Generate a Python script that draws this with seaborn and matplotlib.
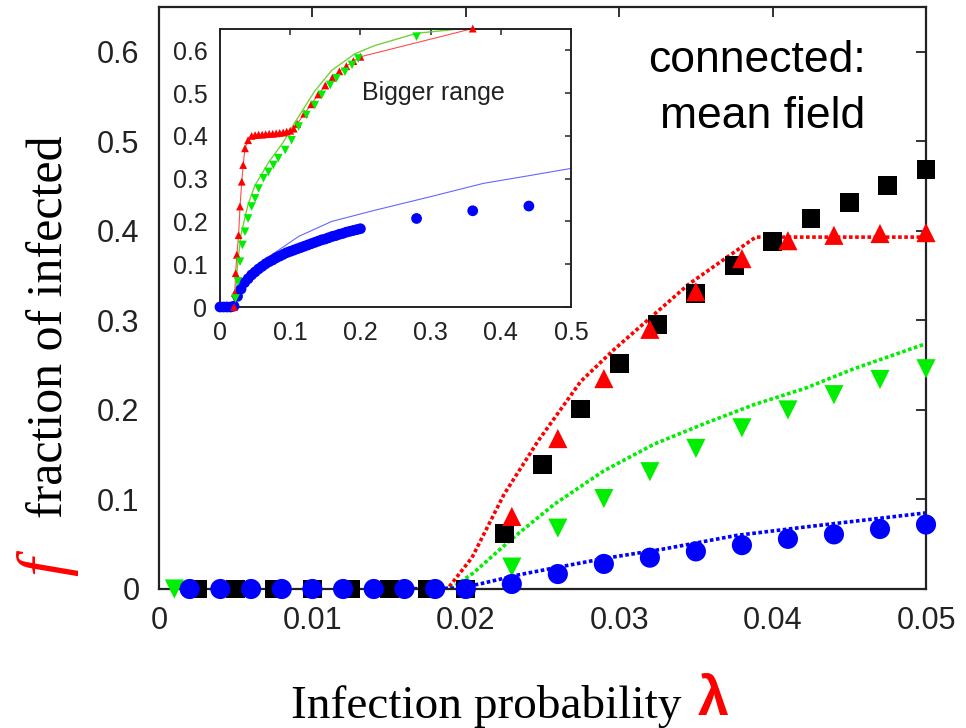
import numpy as np
import pandas as pd
import matplotlib
matplotlib.use("Agg")
import matplotlib.pyplot as plt
import seaborn as sns

# ---------------- main panel data ----------------
sq_x = [0.0025, 0.005, 0.0075, 0.01, 0.0125, 0.015, 0.0175, 0.02,
        0.0225, 0.025, 0.0275, 0.03, 0.0325, 0.035, 0.0375, 0.04,
        0.0425, 0.045, 0.0475, 0.05]
sq_y = [0, 0, 0, 0, 0, 0, 0, 0,
        0.062, 0.139, 0.201, 0.252, 0.295, 0.330, 0.361, 0.388,
        0.414, 0.432, 0.451, 0.469]

up_x = [0.023, 0.026, 0.029, 0.032, 0.035, 0.038, 0.041, 0.044, 0.047, 0.050]
up_y = [0.081, 0.168, 0.235, 0.290, 0.332, 0.369, 0.389, 0.395, 0.397, 0.398]

dn_x = [0.001,
        0.023, 0.026, 0.029, 0.032, 0.035, 0.038, 0.041, 0.044, 0.047, 0.050]
dn_y = [0,
        0.0245, 0.068, 0.101, 0.131, 0.157, 0.180, 0.200, 0.217, 0.234, 0.246]

ci_x = [0.002, 0.004, 0.006, 0.008, 0.010, 0.012, 0.014, 0.016, 0.018, 0.020,
        0.023, 0.026, 0.029, 0.032, 0.035, 0.038, 0.041, 0.044, 0.047, 0.050]
ci_y = [0, 0, 0, 0, 0, 0, 0, 0, 0, 0,
        0.0056, 0.0167, 0.028, 0.035, 0.042, 0.049, 0.056, 0.061, 0.067, 0.072]

# mean-field curves (main)
mf_red_x = [0.015, 0.0188, 0.0204, 0.0225, 0.0247, 0.0275, 0.0297, 0.0323, 0.0345, 0.0369, 0.0389, 0.05]
mf_red_y = [0.0, 0.0, 0.035, 0.106, 0.165, 0.232, 0.268, 0.307, 0.340, 0.369, 0.393, 0.393]
mf_grn_x = [0.015, 0.019, 0.0205, 0.023, 0.0258, 0.029, 0.0323, 0.0356, 0.0388, 0.0421, 0.0453, 0.05]
mf_grn_y = [0.0, 0.0, 0.018, 0.056, 0.095, 0.132, 0.162, 0.185, 0.206, 0.224, 0.246, 0.274]
mf_blu_x = [0.015, 0.0195, 0.021, 0.0235, 0.0253, 0.029, 0.033, 0.0377, 0.042, 0.046, 0.05]
mf_blu_y = [0.0, 0.001, 0.006, 0.016, 0.022, 0.034, 0.045, 0.060, 0.069, 0.077, 0.085]

x_ticks = [0, 0.01, 0.02, 0.03, 0.04, 0.05]
x_labels = ["0", "0.01", "0.02", "0.03", "0.04", "0.05"]
y_ticks = [0, 0.1, 0.2, 0.3, 0.4, 0.5, 0.6]
y_labels = ["0", "0.1", "0.2", "0.3", "0.4", "0.5", "0.6"]

# ---------------- inset data ----------------
in_blue_x = [0.0, 0.005, 0.01, 0.015, 0.02, 0.025, 0.03, 0.035, 0.04, 0.045,
             0.05, 0.055, 0.06, 0.065, 0.07, 0.075, 0.08, 0.085, 0.09, 0.095,
             0.1, 0.105, 0.11, 0.115, 0.12, 0.125, 0.13, 0.135, 0.14, 0.145,
             0.15, 0.155, 0.16, 0.165, 0.17, 0.175, 0.18, 0.185, 0.19, 0.195,
             0.2, 0.28, 0.36, 0.44]
in_blue_y = [0, 0, 0, 0, 0.002, 0.025, 0.042, 0.057, 0.066, 0.075,
             0.082, 0.089, 0.095, 0.101, 0.106, 0.110, 0.115, 0.119, 0.123, 0.127,
             0.130, 0.133, 0.136, 0.139, 0.142, 0.145, 0.148, 0.151, 0.154, 0.157,
             0.159, 0.162, 0.165, 0.167, 0.170, 0.172, 0.175, 0.177, 0.179, 0.181,
             0.183, 0.207, 0.225, 0.236]

in_red_x = [0.020, 0.021, 0.0223, 0.024, 0.0265, 0.0285, 0.031, 0.033, 0.0356, 0.040,
            0.045, 0.05, 0.055, 0.06, 0.065, 0.07, 0.075, 0.08, 0.085, 0.09,
            0.095, 0.10, 0.105, 0.11, 0.12, 0.13, 0.14, 0.15, 0.16, 0.17,
            0.18, 0.19, 0.20, 0.36]
in_red_y = [0.0, 0.033, 0.079, 0.122, 0.168, 0.235, 0.293, 0.332, 0.371, 0.390,
            0.400, 0.402, 0.403, 0.403, 0.404, 0.405, 0.405, 0.406, 0.407, 0.408,
            0.410, 0.412, 0.417, 0.428, 0.452, 0.474, 0.497, 0.518, 0.536, 0.551,
            0.563, 0.575, 0.585, 0.651]

in_grn_x = [0.022, 0.0255, 0.0285, 0.032, 0.0356, 0.040, 0.045, 0.050, 0.055, 0.062,
            0.069, 0.076, 0.083, 0.093, 0.102, 0.112, 0.123, 0.135, 0.145, 0.157,
            0.166, 0.178, 0.188, 0.197, 0.28]
in_grn_y = [0.02, 0.06, 0.106, 0.145, 0.176, 0.207, 0.235, 0.254, 0.277, 0.301,
            0.316, 0.332, 0.348, 0.367, 0.390, 0.422, 0.449, 0.472, 0.496, 0.519,
            0.535, 0.550, 0.566, 0.581, 0.632]

in_grn_line_x = [0.02, 0.022, 0.025, 0.03, 0.04, 0.05, 0.07, 0.09, 0.105, 0.135,
                 0.159, 0.192, 0.22, 0.28, 0.34]
in_grn_line_y = [0.0, 0.03, 0.10, 0.17, 0.24, 0.285, 0.34, 0.385, 0.427, 0.505,
                 0.553, 0.592, 0.611, 0.64, 0.65]

in_blu_line_x = [0.02, 0.03, 0.05, 0.07, 0.112, 0.159, 0.22, 0.3, 0.375, 0.44, 0.5]
in_blu_line_y = [0.0, 0.045, 0.088, 0.118, 0.165, 0.200, 0.226, 0.258, 0.289, 0.307, 0.324]

in_x_ticks = [0, 0.1, 0.2, 0.3, 0.4, 0.5]
in_x_labels = ["0", "0.1", "0.2", "0.3", "0.4", "0.5"]
in_y_ticks = [0, 0.1, 0.2, 0.3, 0.4, 0.5, 0.6]
in_y_labels = ["0", "0.1", "0.2", "0.3", "0.4", "0.5", "0.6"]

RED = "#ff0000"
GREEN = "#00ee00"
BLUE = "#0000ff"

sns.set_style("white")
plt.rcParams["font.family"] = ["Liberation Sans", "DejaVu Sans"]

W, H = 966, 728
fig = plt.figure(figsize=(W / 100, H / 100), dpi=100)

# ---------------- main axes ----------------
ax = fig.add_axes([159 / W, 1 - 589 / H, (926 - 159) / W, (589 - 7) / H])
dots = (0, (1.0, 0.7))
for lx, ly, c in [(mf_red_x, mf_red_y, RED), (mf_grn_x, mf_grn_y, GREEN), (mf_blu_x, mf_blu_y, BLUE)]:
    sns.lineplot(x=lx, y=ly, ax=ax, color=c, linewidth=2.6, linestyle=dots, zorder=2)

sns.scatterplot(x=sq_x, y=sq_y, ax=ax, marker="s", s=185, color="black",
                edgecolor="none", linewidth=0, clip_on=False, zorder=3)
sns.scatterplot(x=up_x, y=up_y, ax=ax, marker="^", s=190, color=RED,
                edgecolor="none", linewidth=0, clip_on=False, zorder=4)
sns.scatterplot(x=dn_x, y=dn_y, ax=ax, marker="v", s=190, color=GREEN,
                edgecolor="none", linewidth=0, clip_on=False, zorder=5)
sns.scatterplot(x=ci_x, y=ci_y, ax=ax, marker="o", s=210, color=BLUE,
                edgecolor="none", linewidth=0, clip_on=False, zorder=6)

ax.set_xlim(0, 0.05)
ax.set_ylim(0, 0.65)
ax.set_xticks(x_ticks)
ax.set_xticklabels(x_labels)
ax.set_yticks(y_ticks)
ax.set_yticklabels(y_labels)
ax.tick_params(axis="both", direction="in", length=7, width=1.3, color="#222222",
               labelsize=22, top=True, right=True, labelcolor="#222222")
ax.tick_params(axis="x", pad=12)
ax.tick_params(axis="y", pad=14)
ax.set_xlabel("")
ax.set_ylabel("")
for sp in ax.spines.values():
    sp.set_visible(True)
    sp.set_linewidth(1.6)
    sp.set_color("#222222")

# ---------------- inset axes ----------------
ax2 = fig.add_axes([220 / W, 1 - 307 / H, (571 - 220) / W, (307 - 29) / H])
ax2.set_facecolor("white")
sns.lineplot(x=in_blu_line_x, y=in_blu_line_y, ax=ax2, color=BLUE, linewidth=0.8, alpha=0.6, zorder=2)
sns.lineplot(x=in_red_x, y=in_red_y, ax=ax2, color=RED, linewidth=0.8, alpha=0.7, zorder=2)
sns.lineplot(x=in_grn_line_x, y=in_grn_line_y, ax=ax2, color="#66cc22", linewidth=1.0, alpha=0.9, zorder=2)

sns.scatterplot(x=in_blue_x, y=in_blue_y, ax=ax2, marker="o", s=60, color=BLUE,
                edgecolor="none", linewidth=0, clip_on=False, zorder=3)
sns.scatterplot(x=in_red_x, y=in_red_y, ax=ax2, marker="^", s=32, color=RED,
                edgecolor="none", linewidth=0, clip_on=False, zorder=4)
sns.scatterplot(x=in_grn_x, y=in_grn_y, ax=ax2, marker="v", s=38, color=GREEN,
                edgecolor="none", linewidth=0, clip_on=False, zorder=5)

ax2.set_xlim(0, 0.5)
ax2.set_ylim(0, 0.65)
ax2.set_xticks(in_x_ticks)
ax2.set_xticklabels(in_x_labels)
ax2.set_yticks(in_y_ticks)
ax2.set_yticklabels(in_y_labels)
ax2.tick_params(axis="both", direction="in", length=4.5, width=1.1, color="#222222",
                labelsize=18, top=True, right=True, labelcolor="#222222")
ax2.tick_params(axis="x", pad=10)
ax2.tick_params(axis="y", pad=9)
ax2.set_xlabel("")
ax2.set_ylabel("")
for sp in ax2.spines.values():
    sp.set_visible(True)
    sp.set_linewidth(1.4)
    sp.set_color("#222222")
ax2.text((362 - 220) / (571 - 220), 1 - (100 - 29) / (307 - 29), "Bigger range",
         transform=ax2.transAxes, fontsize=18, ha="left", va="baseline", color="#222222")

# ---------------- annotations & labels ----------------
fig.text(757 / W, 1 - 72 / H, "connected:", fontsize=32, ha="center", va="baseline", color="black")
fig.text(763 / W, 1 - 128 / H, "mean field", fontsize=32, ha="center", va="baseline", color="black")

fig.text(486 / W, 1 - 718 / H, "Infection probability", fontsize=34, ha="center", va="baseline",
         family=["Liberation Serif", "DejaVu Serif"], color="black")
fig.text(713 / W, 1 - 715 / H, "λ", fontsize=40, ha="center", va="baseline", fontweight="bold",
         family=["Liberation Sans", "DejaVu Sans"], color=RED)

fig.text(63 / W, 1 - 327 / H, "fraction of infected", fontsize=36, rotation=90, rotation_mode="anchor",
         ha="center", va="baseline", family=["Liberation Serif", "DejaVu Serif"], color="black")
fig.text(64 / W, 1 - 567 / H, "f", fontsize=48, rotation=90, rotation_mode="anchor",
         ha="center", va="baseline", style="italic", family=["Liberation Serif", "DejaVu Serif"], color=RED)

fig.savefig("out.png", dpi=100)
